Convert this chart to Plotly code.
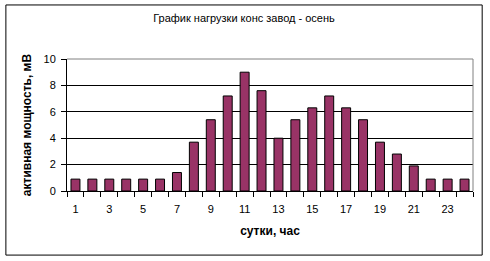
import plotly.graph_objects as go

hours = list(range(1, 25))
power = [0.9, 0.9, 0.9, 0.9, 0.9, 0.9, 1.4, 3.7, 5.4, 7.2, 9.0, 7.6,
         4.0, 5.4, 6.3, 7.2, 6.3, 5.4, 3.7, 2.8, 1.9, 0.9, 0.9, 0.9]
x_ticks = list(range(1, 25, 2))
y_ticks = [0, 2, 4, 6, 8, 10]

font = "Liberation Sans, Arial, sans-serif"

fig = go.Figure(go.Bar(
    x=hours, y=power, width=0.53,
    marker=dict(color="#993366", line=dict(color="black", width=1)),
))

L, R, T, B = 66.7, 16.7, 59.3, 70.3
W, H = 490, 261
pw, ph = W - L - R, H - T - B

def px(x):
    return (x - L) / pw

def py(y):
    return (H - B - y) / ph

fig.update_layout(
    width=W, height=H,
    margin=dict(l=L, r=R, t=T, b=B, pad=0),
    paper_bgcolor="white", plot_bgcolor="white",
    showlegend=False,
    font=dict(family=font, size=11, color="black"),
    title=dict(text="График нагрузки конс завод - осень", x=244 / W, xanchor="center",
               y=1 - 18.5 / H, yanchor="middle", font=dict(size=11, family=font)),
    xaxis=dict(
        range=[0.5, 24.5], tickvals=x_ticks, ticktext=[str(v) for v in x_ticks],
        ticks="", showgrid=False, zeroline=False,
        showline=True, linecolor="black", linewidth=1,
        ticklabelstandoff=8,
        minor=dict(tickvals=[h + 0.5 for h in range(0, 25)], ticks="outside",
                   ticklen=5, tickcolor="black", showgrid=False),
        tickfont=dict(size=11, family=font),
        title=dict(text="<b>сутки, час</b>", font=dict(size=12, family=font), standoff=12),
    ),
    yaxis=dict(
        range=[0, 10], tickvals=y_ticks, ticks="outside", ticklen=5, tickcolor="black",
        showgrid=True, gridcolor="black", gridwidth=1, zeroline=False,
        showline=True, linecolor="black", linewidth=1,
        ticklabelstandoff=3,
        tickfont=dict(size=11, family=font),
        title=dict(text="<b>активная мощность, мВ</b>", font=dict(size=12, family=font), standoff=9),
    ),
    shapes=[
        dict(type="line", xref="paper", yref="paper", x0=0, x1=1, y0=1, y1=1,
             line=dict(color="#808080", width=1)),
        dict(type="line", xref="paper", yref="paper", x0=1, x1=1, y0=0, y1=1,
             line=dict(color="#808080", width=1)),
        dict(type="rect", xref="paper", yref="paper", x0=px(5.5), x1=px(482.5),
             y0=py(254.5), y1=py(5.5), line=dict(color="black", width=1)),
    ],
)

fig.write_html("out.html")
